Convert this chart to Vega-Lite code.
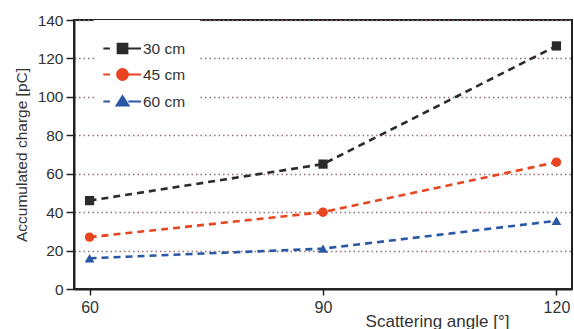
{
  "$schema": "https://vega.github.io/schema/vega-lite/v6.json",
  "width": 498,
  "height": 269,
  "autosize": {"type": "none"},
  "padding": {"left": 74, "top": 20, "right": 2, "bottom": 40},
  "background": "white",
  "config": {
    "font": "Liberation Sans",
    "view": {"stroke": "#222", "strokeWidth": 2},
    "axis": {
      "labelFont": "Liberation Sans",
      "titleFont": "Liberation Sans",
      "labelFontSize": 15.5,
      "titleFontSize": 15.5,
      "titleFontWeight": "normal",
      "labelColor": "#333",
      "titleColor": "#333",
      "domainColor": "#222",
      "domainWidth": 2,
      "tickColor": "#222",
      "tickWidth": 1.5
    }
  },
  "data": {
    "values": [
      {"dist": "30 cm", "angle": 60, "charge": 46},
      {"dist": "30 cm", "angle": 90, "charge": 65},
      {"dist": "30 cm", "angle": 120, "charge": 126.5},
      {"dist": "45 cm", "angle": 60, "charge": 27},
      {"dist": "45 cm", "angle": 90, "charge": 40},
      {"dist": "45 cm", "angle": 120, "charge": 66},
      {"dist": "60 cm", "angle": 60, "charge": 16},
      {"dist": "60 cm", "angle": 90, "charge": 21},
      {"dist": "60 cm", "angle": 120, "charge": 35.5}
    ]
  },
  "encoding": {
    "x": {
      "field": "angle",
      "type": "quantitative",
      "scale": {"domain": [58, 122], "nice": false, "zero": false},
      "axis": {
        "values": [60, 90, 120],
        "grid": false,
        "tickSize": 6,
        "labelPadding": 4,
        "labelFontSize": 16,
        "title": "Scattering angle [°]",
        "titleFontSize": 17,
        "titleX": 363,
        "titleY": 37,
        "titleAlign": "center",
        "titleBaseline": "alphabetic",
        "titleAnchor": null
      }
    },
    "y": {
      "field": "charge",
      "type": "quantitative",
      "scale": {"domain": [0, 140], "nice": false},
      "axis": {
        "values": [0, 20, 40, 60, 80, 100, 120, 140],
        "grid": true,
        "gridDash": [1.5, 3],
        "gridColor": "#9b6f6f",
        "gridWidth": 1.3,
        "tickSize": 8,
        "labelPadding": 3,
        "title": "Accumulated charge [pC]",
        "titlePadding": 8
      }
    },
    "color": {
      "field": "dist",
      "type": "nominal",
      "scale": {"domain": ["30 cm", "45 cm", "60 cm"], "range": ["#2b2b2b", "#e8451f", "#2a58a6"]},
      "legend": {
        "title": null,
        "orient": "none",
        "legendX": 20,
        "legendY": 0,
        "padding": 14,
        "fillColor": "white",
        "strokeColor": null,
        "symbolType": "stroke",
        "symbolSize": 700,
        "rowPadding": 2,
        "labelOffset": 6,
        "labelFontSize": 15.5,
        "labelFont": "Liberation Sans",
        "labelColor": "#333",
        "encode": {
          "symbols": {
            "update": {
              "shape": {"signal": "datum.value === '30 cm' ? 'M-1.45,0H-0.95M-0.36,-0.36H0.36V0.36H-0.36ZM0.36,0H1.4' : datum.value === '45 cm' ? 'M-1.45,0H-0.95M-0.4,0A0.4,0.4 0 1,0 0.4,0A0.4,0.4 0 1,0 -0.4,0ZM0.4,0H1.4' : 'M-1.45,0H-0.95M-0.44,0.3L0,-0.4L0.44,0.3ZM0.44,0H1.4'"},
              "fill": {"scale": "color", "field": "value"},
              "stroke": {"scale": "color", "field": "value"},
              "strokeWidth": {"value": 2.2},
              "strokeDash": {"value": []},
              "fillOpacity": {"value": 1},
              "opacity": {"value": 1}
            }
          }
        }
      }
    }
  },
  "layer": [
    {
      "mark": {"type": "line", "interpolate": "linear", "strokeDash": [7, 5], "strokeWidth": 2.6}
    },
    {
      "transform": [{"filter": "datum.dist === '30 cm'"}],
      "mark": {"type": "point", "shape": "square", "filled": true, "opacity": 1, "size": 85}
    },
    {
      "transform": [{"filter": "datum.dist === '45 cm'"}],
      "mark": {"type": "point", "shape": "circle", "filled": true, "opacity": 1, "size": 90}
    },
    {
      "transform": [{"filter": "datum.dist === '60 cm'"}],
      "mark": {"type": "point", "shape": "triangle-up", "filled": true, "opacity": 1, "size": 95}
    }
  ]
}
